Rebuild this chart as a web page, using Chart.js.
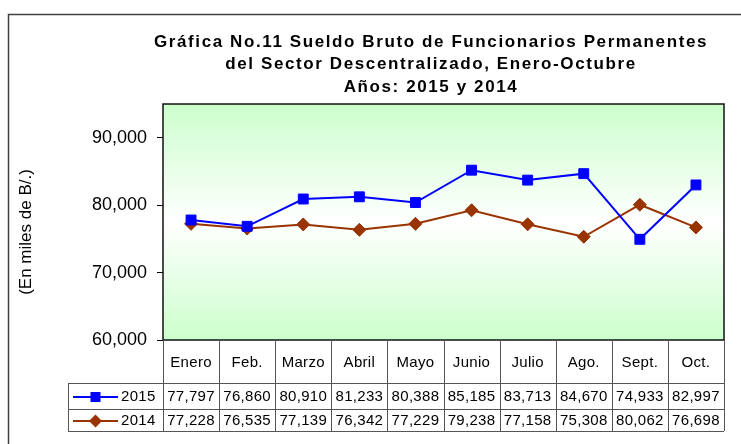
<!DOCTYPE html>
<html lang="es">
<head>
<meta charset="UTF-8">
<title>Gráfica No.11 Sueldo Bruto</title>
<script src="https://cdn.jsdelivr.net/npm/chart.js"></script>
<style>
  html, body { margin: 0; padding: 0; background: #fff; }
</style>
</head>
<body>
<canvas id="sueldoChart" width="741" height="444"></canvas>
<script>
const meses = ["Enero", "Feb.", "Marzo", "Abril", "Mayo", "Junio", "Julio", "Ago.", "Sept.", "Oct."];
const sueldo2015 = [77797, 76860, 80910, 81233, 80388, 85185, 83713, 84670, 74933, 82997];
const sueldo2014 = [77228, 76535, 77139, 76342, 77229, 79238, 77158, 75308, 80062, 76698];
const series = ["2015", "2014"];
const ejeY = [60000, 70000, 80000, 90000];
const titulo = [
  "Gráfica No.11 Sueldo Bruto de Funcionarios Permanentes",
  "del Sector Descentralizado, Enero-Octubre",
  "Años: 2015 y 2014"
];
const tituloY = "(En miles de B/.)";

const FUENTE = "'Liberation Sans', Arial, sans-serif";

// fondo degradado, marco exterior y títulos
const fondo = {
  id: "fondo",
  beforeDraw(chart) {
    const { ctx, chartArea: a } = chart;
    ctx.save();
    ctx.strokeStyle = "#404040";
    ctx.lineWidth = 1.5;
    ctx.strokeRect(8.5, 14.5, 800, 500);

    const g = ctx.createLinearGradient(0, a.top, 0, a.bottom);
    g.addColorStop(0, "#ccffcc");
    g.addColorStop(0.5, "#ffffff");
    g.addColorStop(1, "#ccffcc");
    ctx.fillStyle = g;
    ctx.fillRect(a.left, a.top, a.right - a.left, a.bottom - a.top);

    ctx.fillStyle = "#000";
    ctx.font = "bold 17px " + FUENTE;
    ctx.letterSpacing = "1.6px";
    ctx.textAlign = "center";
    ctx.textBaseline = "middle";
    titulo.forEach((t, i) => ctx.fillText(t, 431, 42 + i * 22.5));

    // título del eje Y
    ctx.letterSpacing = "0px";
    ctx.font = "17px " + FUENTE;
    ctx.translate(26, 232);
    ctx.rotate(-Math.PI / 2);
    ctx.fillText(tituloY, 0, 0);
    ctx.restore();
  },
  beforeDatasetsDraw(chart) {
    const { ctx, chartArea: a } = chart;
    ctx.save();
    ctx.strokeStyle = "#111";
    ctx.lineWidth = 1.5;
    ctx.strokeRect(a.left, a.top, a.right - a.left, a.bottom - a.top);
    ctx.restore();
  }
};

// tabla de datos bajo el eje X
const tabla = {
  id: "tabla",
  afterDraw(chart) {
    const { ctx, chartArea: a, scales } = chart;
    const x = scales.x;
    const colW = (a.right - a.left) / meses.length;
    const yCat = a.bottom, y1 = 383, y2 = 409, y3 = 431;
    const izq = 68;
    const filas = [y1, y2, y3];

    const linea = (xa, ya, xb, yb) => {
      ctx.beginPath();
      ctx.moveTo(xa, ya);
      ctx.lineTo(xb, yb);
      ctx.stroke();
    };

    ctx.save();
    ctx.strokeStyle = "#555";
    ctx.lineWidth = 1;
    filas.forEach(y => linea(izq, y + 0.5, a.right, y + 0.5));
    linea(izq + 0.5, y1, izq + 0.5, y3);
    for (let i = 0; i <= meses.length; i++) {
      const xx = Math.round(a.left + i * colW) + 0.5;
      linea(xx, yCat, xx, y3);
    }

    ctx.fillStyle = "#000";
    ctx.font = "15px " + FUENTE;
    ctx.letterSpacing = "0.3px";
    ctx.textAlign = "center";
    ctx.textBaseline = "middle";
    meses.forEach((m, i) => ctx.fillText(m, x.getPixelForValue(i), (yCat + y1) / 2 + 1));

    chart.data.datasets.forEach((ds, r) => {
      const yc = (filas[r] + filas[r + 1]) / 2 + 1;
      ds.data.forEach((v, i) => {
        ctx.fillStyle = "#000";
        ctx.textAlign = "center";
        ctx.fillText(v.toLocaleString("en-US"), x.getPixelForValue(i), yc);
      });
      // leyenda de la fila
      ctx.strokeStyle = ds.borderColor;
      ctx.lineWidth = 2;
      linea(73, yc, 118, yc);
      ctx.fillStyle = ds.borderColor;
      ctx.beginPath();
      if (ds.pointStyle === "rect") {
        ctx.rect(90.5, yc - 5, 10, 10);
      } else {
        ctx.moveTo(95.5, yc - 6.5);
        ctx.lineTo(102, yc);
        ctx.lineTo(95.5, yc + 6.5);
        ctx.lineTo(89, yc);
        ctx.closePath();
      }
      ctx.fill();
      ctx.fillStyle = "#000";
      ctx.textAlign = "left";
      ctx.fillText(ds.label, 121, yc);
    });
    ctx.restore();
  }
};

new Chart(document.getElementById("sueldoChart"), {
  type: "line",
  data: {
    labels: meses,
    datasets: [
      {
        label: series[0],
        data: sueldo2015,
        borderColor: "#0000ff",
        backgroundColor: "#0000ff",
        borderWidth: 2,
        pointStyle: "rect",
        pointRadius: 7,
        pointBorderWidth: 1,
        tension: 0
      },
      {
        label: series[1],
        data: sueldo2014,
        borderColor: "#993300",
        backgroundColor: "#993300",
        borderWidth: 2,
        pointStyle: "rectRot",
        pointRadius: 6.5,
        pointBorderWidth: 1,
        tension: 0
      }
    ]
  },
  options: {
    responsive: false,
    devicePixelRatio: 1,
    animation: false,
    layout: { padding: { left: 12, top: 104, right: 17, bottom: 104 } },
    plugins: {
      legend: { display: false },
      title: { display: false },
      tooltip: { enabled: false }
    },
    scales: {
      x: { type: "category", offset: true, display: false },
      y: {
        min: 60000,
        max: 95000,
        afterBuildTicks(scale) { scale.ticks = ejeY.map(v => ({ value: v })); },
        afterFit(scale) { scale.width = 151; },
        ticks: {
          color: "#000",
          padding: 10,
          font: { family: FUENTE, size: 18 },
          callback: v => v.toLocaleString("en-US")
        },
        grid: { drawOnChartArea: false, color: "#000", tickLength: 6 },
        border: { display: false }
      }
    }
  },
  plugins: [fondo, tabla]
});
</script>
</body>
</html>
